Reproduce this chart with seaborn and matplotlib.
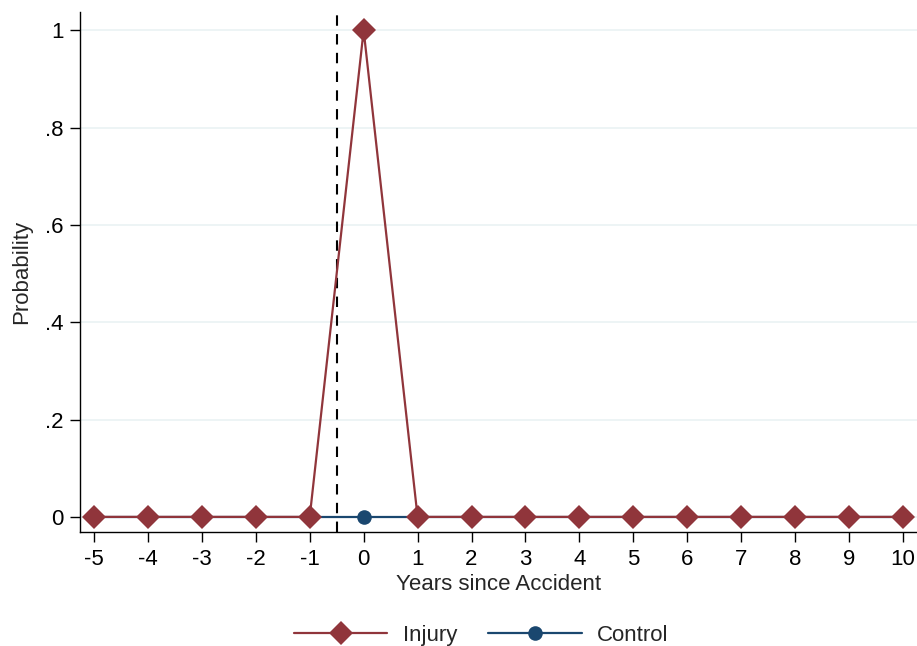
import numpy as np
import pandas as pd
import matplotlib
matplotlib.use('Agg')
import matplotlib.pyplot as plt
import seaborn as sns

sns.set_theme(style = 'white')
plt.rcParams['font.family'] = ['Liberation Sans', 'DejaVu Sans']

years = list(range(-5, 11))
injury = [0, 0, 0, 0, 0, 1, 0, 0, 0, 0, 0, 0, 0, 0, 0, 0]
control = [0] * 16

y_ticks = [0, 0.2, 0.4, 0.6, 0.8, 1]
y_labels = ['0', '.2', '.4', '.6', '.8', '1']

maroon = '#90353B'
navy = '#1A476F'


def main() -> None:

    df = pd.DataFrame({'year': years, 'Injury': injury, 'Control': control})

    fig = plt.figure(figsize = (9.17, 6.46), dpi = 100)
    ax = fig.add_axes([0.0872, 0.1765, 0.9128, 0.8045])

    sns.lineplot(data = df, x = 'year', y = 'Control', color = navy, marker = 'o',
                 markersize = 10.5, markeredgewidth = 0, linewidth = 1.6, ax = ax,
                 label = 'Control', zorder = 3)
    sns.lineplot(data = df, x = 'year', y = 'Injury', color = maroon, marker = 'D',
                 markersize = 12, markeredgewidth = 0, linewidth = 1.6, ax = ax,
                 label = 'Injury', zorder = 4)

    ax.axvline(-0.5, color = 'black', linestyle = (0, (5, 4)), linewidth = 1.5, zorder = 2)

    ax.set_xlim(-5.26, 10.26)
    ax.set_ylim(-0.031, 1.037)
    ax.set_xticks(years)
    ax.set_xticklabels([str(y) for y in years], fontsize = 16)
    ax.set_yticks(y_ticks)
    ax.set_yticklabels(y_labels, fontsize = 16)
    ax.yaxis.grid(True, color = '#EAF2F3', linewidth = 1.2)
    ax.set_axisbelow(True)

    for s in ['top', 'right']:
        ax.spines[s].set_visible(False)
    for s in ['left', 'bottom']:
        ax.spines[s].set_color('black')
        ax.spines[s].set_linewidth(1.0)

    ax.tick_params(axis = 'both', direction = 'out', length = 7, width = 1, color = 'black',
                   labelcolor = 'black', bottom = True, left = True, pad = 5)

    ax.set_xlabel('Years since Accident', fontsize = 16, labelpad = 3)
    ax.set_ylabel('Probability', fontsize = 16, labelpad = 9)

    handles, labels = ax.get_legend_handles_labels()
    ax.get_legend().remove()
    order = [labels.index('Injury'), labels.index('Control')]
    fig.legend([handles[i] for i in order], [labels[i] for i in order],
               loc = 'center', bbox_to_anchor = (0.525, 0.017), ncol = 2,
               frameon = False, fontsize = 16, handlelength = 4.2, handletextpad = 0.7,
               columnspacing = 1.4)

    fig.savefig('out.png', dpi = 100)


if __name__ == '__main__': main()
